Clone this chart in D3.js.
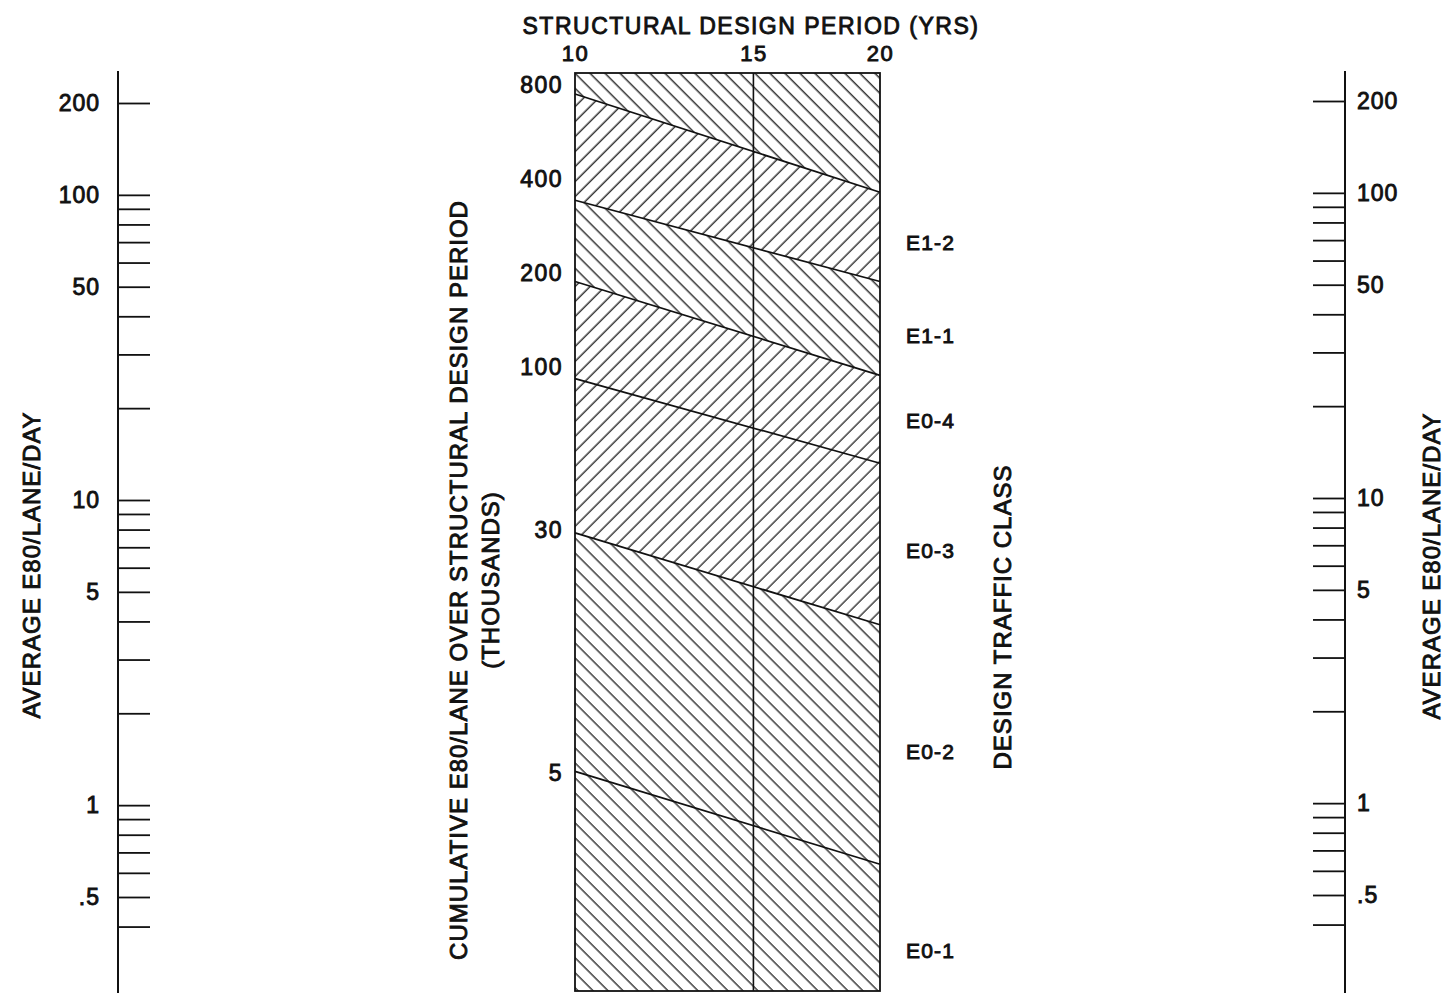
<!DOCTYPE html>
<html>
<head>
<meta charset="utf-8">
<script src="https://cdn.jsdelivr.net/npm/d3@7"></script>
<style>
  body { margin: 0; background: #fff; }
  text { font-family: "Liberation Sans", Arial, Helvetica, sans-serif; fill: #111; stroke: #111; stroke-width: 0.9px; }
</style>
</head>
<body>
<div id="chart"></div>
<script>
// Nomograph: design traffic class from average daily E80 and design period

// data
var periodTicks = [10, 15, 20];
var dailyTicks = [200, 100, 90, 80, 70, 60, 50, 40, 30, 20, 10, 9, 8, 7, 6, 5, 4, 3, 2,
                  1, 0.9, 0.8, 0.7, 0.6, 0.5, 0.4];
var dailyLabels = [200, 100, 50, 10, 5, 1, 0.5];
var cumulativeLabels = [800, 400, 200, 100, 30, 5];
// class limit lines, average E80/lane/day at 10 yrs and at 20 yrs
var limitAt10 = [214, 96, 52, 25, 7.8, 1.29];
var limitAt20 = [102, 52, 25.6, 13.2, 3.9, 0.64];
var classNames = ["E1-2", "E1-1", "E0-4", "E0-3", "E0-2", "E0-1"];
var classLabelAt = [69.9, 34.6, 18.2, 6.83, 1.5, 0.333];

// styles
var regionHatch = ["back", "fwd", "back", "fwd", "fwd", "back", "back"];

var width = 1444, height = 995;
var frameTop = 73, frameBottom = 991;
var axisTop = 71, axisBottom = 993;

var svg = d3.select("#chart")
    .append("svg")
    .attr("width", width)
    .attr("height", height);

var y = d3.scaleLog().domain([0.5, 200]).range([897, 103]);
var x = d3.scaleLog().domain([10, 20]).range([575, 880]);
var yCum = d3.scaleLog().domain([5, 800]).range([773, 85]);

var fmt = function (v) {
    return dailyLabels.indexOf(v) < 0 ? "" : String(v).replace(/^0\./, ".");
};

// hatch patterns
var defs = svg.append("defs");
[["fwd", 45], ["back", -45]].forEach(function (h) {
    defs.append("pattern")
        .attr("id", "hatch-" + h[0])
        .attr("patternUnits", "userSpaceOnUse")
        .attr("width", 10.6)
        .attr("height", 10.6)
        .attr("patternTransform", "rotate(" + h[1] + ")")
        .append("line")
        .attr("x1", 5).attr("x2", 5)
        .attr("y1", -1).attr("y2", 11.6)
        .attr("stroke", "#1a1a1a")
        .attr("stroke-width", 1.3);
});

// side axes
function sideAxis(axis, tx, ty) {
    var g = svg.append("g")
        .attr("transform", "translate(" + tx + "," + ty + ")")
        .call(axis.tickValues(dailyTicks).tickSizeInner(-32).tickSizeOuter(0).tickFormat(fmt));
    g.select(".domain").remove();
    g.selectAll(".tick line").attr("stroke", "#111").attr("stroke-width", 1.8);
    g.selectAll(".tick text")
        .style("font-size", "23px")
        .style("letter-spacing", "1px");
    g.append("line")
        .attr("y1", axisTop - ty).attr("y2", axisBottom - ty)
        .attr("stroke", "#111").attr("stroke-width", 2);
    return g;
}
sideAxis(d3.axisLeft(y).tickPadding(18), 118, 0);
sideAxis(d3.axisRight(y).tickPadding(12), 1345, -2);

// hatched class regions
var edges = [[frameTop, frameTop]]
    .concat(limitAt10.map(function (v, i) { return [y(v), y(limitAt20[i])]; }))
    .concat([[frameBottom, frameBottom]]);
var regions = d3.range(edges.length - 1).map(function (i) {
    return { top: edges[i], bottom: edges[i + 1], hatch: regionHatch[i] };
});
var x0 = x(10), x1 = x(20);
svg.selectAll("path.region")
    .data(regions)
    .join("path")
    .attr("class", "region")
    .attr("fill", function (d) { return "url(#hatch-" + d.hatch + ")"; })
    .attr("d", function (d) {
        return "M" + x0 + "," + d.top[0] + "L" + x1 + "," + d.top[1] +
            "L" + x1 + "," + d.bottom[1] + "L" + x0 + "," + d.bottom[0] + "Z";
    });

// class limit lines
var limitLine = d3.line()
    .x(function (d) { return x(d[0]); })
    .y(function (d) { return y(d[1]); });
svg.selectAll("path.limit")
    .data(limitAt10.map(function (v, i) { return [[10, v], [20, limitAt20[i]]]; }))
    .join("path")
    .attr("class", "limit")
    .attr("d", limitLine)
    .attr("fill", "none")
    .attr("stroke", "#111")
    .attr("stroke-width", 1.7);

// frame and 15-year divider
svg.append("rect")
    .attr("x", x0).attr("y", frameTop)
    .attr("width", x1 - x0).attr("height", frameBottom - frameTop)
    .attr("fill", "none").attr("stroke", "#111").attr("stroke-width", 1.8);
svg.append("line")
    .attr("x1", x(15)).attr("x2", x(15))
    .attr("y1", frameTop).attr("y2", frameBottom)
    .attr("stroke", "#111").attr("stroke-width", 1.6);

// top axis, design period
var gTop = svg.append("g")
    .attr("transform", "translate(0," + frameTop + ")")
    .call(d3.axisTop(x).tickValues(periodTicks).tickSize(0).tickPadding(12).tickFormat(d3.format("d")));
gTop.select(".domain").remove();
gTop.selectAll(".tick text").style("font-size", "22px").style("letter-spacing", "1.5px");

// cumulative labels
var gCum = svg.append("g")
    .attr("transform", "translate(" + x0 + ",0)")
    .call(d3.axisLeft(yCum).tickValues(cumulativeLabels).tickSize(0).tickPadding(12).tickFormat(d3.format("d")));
gCum.select(".domain").remove();
gCum.selectAll(".tick text").style("font-size", "23px").style("letter-spacing", "1.5px");

// class names
svg.selectAll("text.cls")
    .data(classNames)
    .join("text")
    .attr("class", "cls")
    .attr("x", 906)
    .attr("y", function (d, i) { return y(classLabelAt[i]); })
    .attr("dy", "0.35em")
    .style("font-size", "21px")
    .style("letter-spacing", "1.2px")
    .text(function (d) { return d; });

// titles
svg.append("text")
    .attr("x", 751).attr("y", 34)
    .attr("text-anchor", "middle")
    .style("font-size", "23px")
    .style("letter-spacing", "1.5px")
    .text("STRUCTURAL DESIGN PERIOD (YRS)");

function vTitle(tx, ty, label) {
    svg.append("text")
        .attr("transform", "translate(" + tx + "," + ty + ") rotate(-90)")
        .attr("text-anchor", "middle")
        .style("font-size", "24px")
        .style("letter-spacing", "1px")
        .text(label);
}
vTitle(40, 565, "AVERAGE E80/LANE/DAY");
vTitle(1440, 566, "AVERAGE E80/LANE/DAY");
vTitle(467, 580, "CUMULATIVE E80/LANE OVER STRUCTURAL DESIGN PERIOD");
vTitle(499, 580, "(THOUSANDS)");
vTitle(1011, 617, "DESIGN TRAFFIC CLASS");
</script>
</body>
</html>
